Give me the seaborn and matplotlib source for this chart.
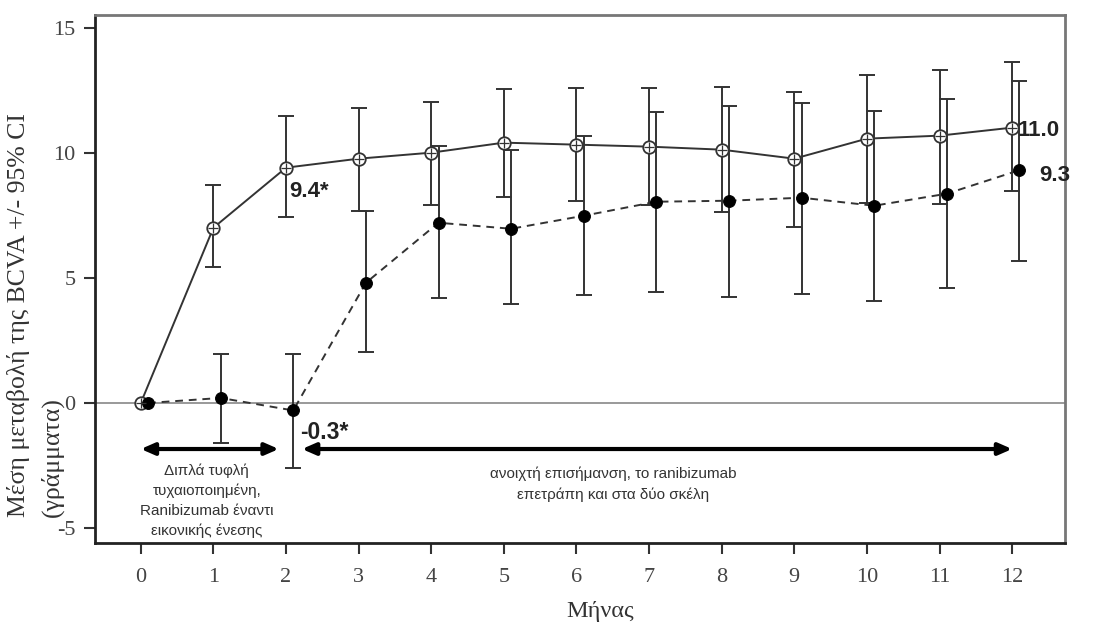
import numpy as np
import pandas as pd
import matplotlib
matplotlib.use("Agg")
import matplotlib.pyplot as plt
import seaborn as sns

# months of follow-up
months = list(range(13))

# ranibizumab arm (open circles, solid line)
ranib_mean = [0, 7.0, 9.4, 9.76, 10.0, 10.4, 10.32, 10.24, 10.12, 9.76, 10.56, 10.68, 11.0]
ranib_hi = [0, 8.7, 11.48, 11.8, 12.04, 12.56, 12.6, 12.6, 12.64, 12.44, 13.12, 13.32, 13.64]
ranib_lo = [0, 5.44, 7.44, 7.68, 7.92, 8.24, 8.08, 7.9, 7.64, 7.04, 8.0, 7.96, 8.48]

# sham arm (filled circles, dashed line)
sham_mean = [0, 0.2, -0.3, 4.8, 7.2, 6.96, 7.48, 8.04, 8.08, 8.2, 7.88, 8.36, 9.3]
sham_hi = [0, 1.96, 1.96, 7.68, 10.28, 10.12, 10.68, 11.64, 11.88, 12.0, 11.68, 12.16, 12.88]
sham_lo = [0, -1.6, -2.6, 2.04, 4.2, 3.96, 4.32, 4.44, 4.24, 4.36, 4.08, 4.6, 5.68]

y_ticks = [-5, 0, 5, 10, 15]

sns.set_style("ticks")
plt.rcParams["font.family"] = ["Liberation Serif", "DejaVu Serif"]
plt.rcParams["axes.unicode_minus"] = False

df_r = pd.DataFrame({"month": months, "mean": ranib_mean})
df_s = pd.DataFrame({"month": np.array(months) + 0.1, "mean": sham_mean})

fig = plt.figure(figsize=(11.13, 6.25), dpi=100)
ax = fig.add_axes([0.0854, 0.131, 0.8716, 0.845])

ax.axhline(0, color="#888888", lw=1.2, zorder=1)

# error bars
r_err = [np.array(ranib_mean) - np.array(ranib_lo), np.array(ranib_hi) - np.array(ranib_mean)]
s_err = [np.array(sham_mean) - np.array(sham_lo), np.array(sham_hi) - np.array(sham_mean)]
ax.errorbar(df_r["month"][1:], df_r["mean"][1:], yerr=[r_err[0][1:], r_err[1][1:]],
            fmt="none", ecolor="#333333", elinewidth=1.4, capsize=6, capthick=1.4, zorder=2)
ax.errorbar(df_s["month"][1:], df_s["mean"][1:], yerr=[s_err[0][1:], s_err[1][1:]],
            fmt="none", ecolor="#333333", elinewidth=1.4, capsize=6, capthick=1.4, zorder=2)

# lines with markers
sns.lineplot(data=df_r, x="month", y="mean", ax=ax, color="#333333", lw=1.4,
             marker="o", markersize=9, markerfacecolor="white",
             markeredgecolor="#333333", markeredgewidth=1.3, zorder=3)
ax.scatter(df_r["month"], df_r["mean"], marker="+", s=50, color="#333333",
           linewidths=0.9, zorder=4)
sns.lineplot(data=df_s, x="month", y="mean", ax=ax, color="#333333", lw=1.4,
             linestyle=(0, (4, 3)), marker="o", markersize=8.5,
             markerfacecolor="black", markeredgecolor="black", zorder=3)
ax.set_xlabel("")
ax.set_ylabel("")

# value annotations
bold = dict(family=["Liberation Sans", "DejaVu Sans"], fontweight="bold", color="#222222")
ax.text(2.04, 8.45, "9.4*", fontsize=16, ha="left", va="center", **bold)
ax.text(12.07, 10.9, "11.0", fontsize=16, ha="left", va="center", **bold)
ax.text(12.37, 9.1, "9.3", fontsize=16, ha="left", va="center", **bold)
ax.text(2.2, -1.2, "-0.3*", fontsize=16.5, ha="left", va="center", **bold)

# phase arrows
arrow = dict(arrowstyle="<|-|>,head_length=0.8,head_width=0.35", lw=3, color="black",
             shrinkA=0, shrinkB=0)
ax.annotate("", xy=(1.9, -1.84), xytext=(0.0, -1.84), arrowprops=arrow)
ax.annotate("", xy=(12.0, -1.84), xytext=(2.22, -1.84), arrowprops=arrow)

sans = dict(family=["Liberation Sans", "DejaVu Sans"], color="#333333", fontsize=11)
ax.text(0.91, -3.9, "Διπλά τυφλή\nτυχαιοποιημένη,\nRanibizumab έναντι\nεικονικής ένεσης",
        ha="center", va="center", linespacing=1.5, **sans)
ax.text(6.5, -3.25, "ανοιχτή επισήμανση, το ranibizumab\nεπετράπη και στα δύο σκέλη",
        ha="center", va="center", linespacing=1.5, **sans)

ax.set_xlim(-0.63, 12.73)
ax.set_ylim(-5.6, 15.5)
ax.set_xticks(months)
ax.set_yticks(y_ticks)
ax.tick_params(axis="both", labelsize=16, labelcolor="#444444", color="#333333",
               length=8, width=1.5, direction="out")
ax.tick_params(axis="x", pad=10)
ax.tick_params(axis="y", pad=6)

fig.text(0.539, 0.021, "Μήνας", fontsize=17.5, color="#333333", ha="center", va="center")
# y label as two lines, both starting at the same bottom point
fig.text(0.0165, 0.173, "Μέση μεταβολή της BCVA +/- 95% CI", fontsize=18.5,
         color="#333333", rotation=90, ha="center", va="bottom")
fig.text(0.0470, 0.173, "(γράμματα)", fontsize=18.5,
         color="#333333", rotation=90, ha="center", va="bottom")

for side in ["left", "bottom"]:
    ax.spines[side].set_color("#222222")
    ax.spines[side].set_linewidth(2)
for side in ["top", "right"]:
    ax.spines[side].set_visible(True)
    ax.spines[side].set_color("#777777")
    ax.spines[side].set_linewidth(2)

fig.savefig("out.png", dpi=100)
